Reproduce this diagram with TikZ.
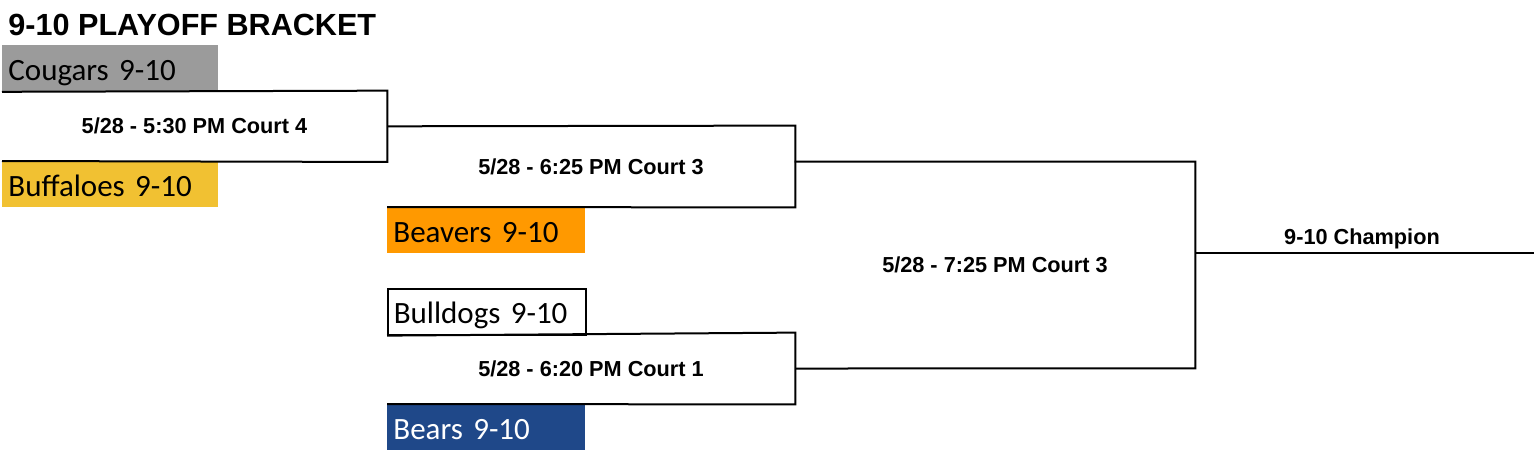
\documentclass[tikz,border=0pt]{standalone}
\usepackage{fontspec}
\setmainfont{Liberation Sans}
\newfontfamily\teamfont{Carlito}[WordSpace={0.4,0,0}]
\definecolor{cougargray}{RGB}{155,155,155}
\definecolor{buffgold}{RGB}{241,193,50}
\definecolor{beaverorange}{RGB}{255,153,0}
\definecolor{bearblue}{RGB}{31,72,137}
\begin{document}
\begin{tikzpicture}[x=0.5pt, y=-0.5pt,
        team/.style={anchor=north west, minimum height=23pt, inner xsep=3pt, inner ysep=0pt, text depth=0pt, text height=12pt, align=left, font=\teamfont\fontsize{15.5}{18}\selectfont},
        match/.style={inner sep=0pt, font=\bfseries\fontsize{10.85}{13}\selectfont},
        bracket/.style={line width=1pt, line join=miter}]
        \useasboundingbox (0,0) rectangle (1536,452);
        \node[anchor=base west, inner sep=0pt, font=\bfseries\fontsize{15.3}{18}\selectfont] (title) at (8,35) {9-10 PLAYOFF BRACKET};
        \node[team, fill=cougargray, minimum width=108pt, text width=102pt] (cougars) at (2,45) {Cougars 9-10};
        \node[team, fill=buffgold, minimum width=108pt, text width=102pt] (buffaloes) at (2,161) {Buffaloes 9-10};
        \node[team, fill=beaverorange, minimum width=99pt, text width=93pt] (beavers) at (387,207) {Beavers 9-10};
        \node[team, draw=black, line width=0.8pt, minimum width=99pt, text width=93pt] (bulldogs) at (387,288) {Bulldogs 9-10};
        \node[team, fill=bearblue, text=white, minimum width=99pt, text width=93pt] (bears) at (387,404) {Bears 9-10};
        \node[match, minimum width=192.5pt, minimum height=35.25pt] (m1) at (194.5,126.3) {5/28 - 5:30 PM Court 4};
        \node[match, minimum width=204pt, minimum height=40.5pt] (m2) at (591,166.5) {5/28 - 6:25 PM Court 3};
        \node[match, minimum width=204pt, minimum height=35.5pt] (m3) at (591,368.5) {5/28 - 6:20 PM Court 1};
        \node[match, minimum width=200pt, minimum height=103pt] (m4) at (995,265) {5/28 - 7:25 PM Court 3};
        \coordinate (cend) at (1534,252.5);
        \node[match, anchor=base] (champ) at (1362,244) {9-10 Champion};
        \draw[bracket] (cougars.south west) -- (m1.north east) -- (m1.south east) -- (buffaloes.north west);
        \draw[bracket] (m1.east) -- (m2.north east) -- (m2.south east) -- (beavers.north west);
        \draw[bracket] (bulldogs.south west) -- (m3.north east) -- (m3.south east) -- (bears.north west);
        \draw[bracket] (m4.north west) -- (m4.north east) -- (m4.south east) -- (m3.east);
        \draw[bracket] (m4.east |- cend) -- (cend);
\end{tikzpicture}
\end{document}
